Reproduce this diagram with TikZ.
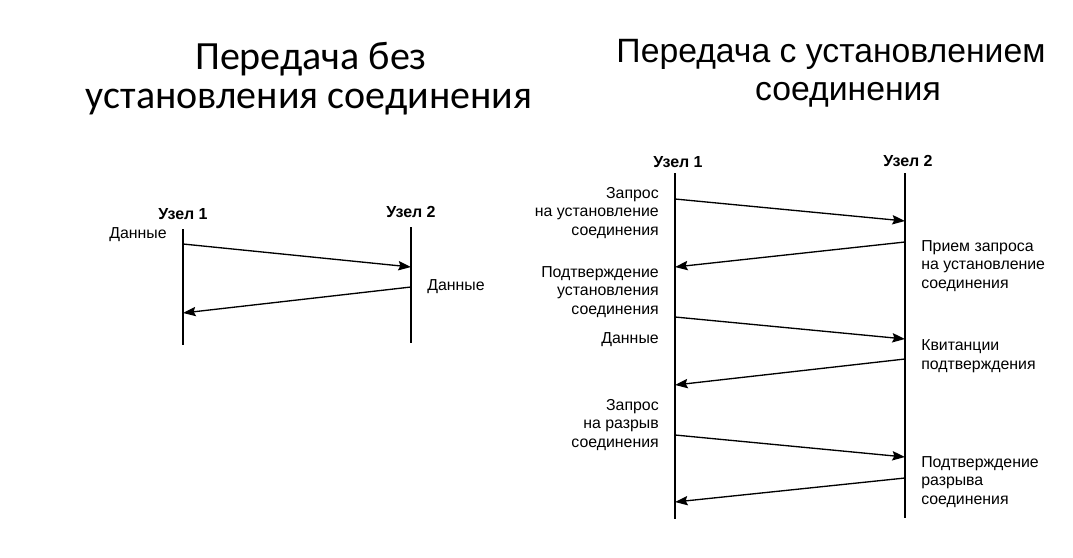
\documentclass[tikz,border=0pt]{standalone}
\usepackage{fontspec}
\setmainfont{Liberation Sans}
\newfontfamily\calibrifont{Carlito}
\usetikzlibrary{arrows.meta}
\begin{document}
\begin{tikzpicture}[x=0.75pt,y=-0.75pt,
  life/.style={line width=1.3pt},
  msg/.style={line width=1pt,-{Stealth[length=9.5pt,width=7pt,inset=1.5pt]}},
  hdr/.style={font=\bfseries\fontsize{12}{14}\selectfont, inner sep=0pt},
  lbl/.style={font=\fontsize{11.9}{13.9}\selectfont, inner sep=0pt},
  ltitle/.style={font=\calibrifont\fontsize{30}{36}\selectfont, inner sep=0pt, anchor=base},
  rtitle/.style={font=\fontsize{25.3}{30}\selectfont, inner sep=0pt, anchor=base}
]
\fill[white] (0,0) rectangle (1073,557);
\useasboundingbox (0,0) rectangle (1073,557);

% titles
\node[ltitle] (lt1) at (311,69) {Передача без};
\node[ltitle] (lt2) at (309,108) {установления соединения};
\node[rtitle] (rt1) at (831,62) {Передача с установлением};
\node[rtitle] (rt2) at (848,100) {соединения};

% ---------- left diagram ----------
\node[hdr] (lh1) at (183,214) {Узел 1};
\node[hdr] (lh2) at (411,212) {Узел 2};
\coordinate (l1top) at (183,229);
\coordinate (l1bot) at (183,345);
\coordinate (l2top) at (411,227);
\coordinate (l2bot) at (411,343);
\draw[life] (l1top) -- (l1bot);
\draw[life] (l2top) -- (l2bot);
\coordinate (la1) at (183,244);
\coordinate (la2) at (411,267);
\coordinate (la3) at (411,287);
\coordinate (la4) at (183,313);
\draw[msg] (la1) -- (la2);
\draw[msg] (la3) -- (la4);
\node[lbl, anchor=east] (ld1) at (167,235) {Данные};
\node[lbl, anchor=west] (ld2) at (427,287) {Данные};

% ---------- right diagram ----------
\node[hdr] (rh1) at (678,162) {Узел 1};
\node[hdr] (rh2) at (908,161) {Узел 2};
\coordinate (r1top) at (675,173);
\coordinate (r1bot) at (675,519);
\coordinate (r2top) at (905,173);
\coordinate (r2bot) at (905,518);
\draw[life] (r1top) -- (r1bot);
\draw[life] (r2top) -- (r2bot);

\coordinate (ra1s) at (675,199);
\coordinate (ra1e) at (905,221);
\coordinate (ra2s) at (905,242);
\coordinate (ra2e) at (675,267);
\coordinate (ra3s) at (675,317);
\coordinate (ra3e) at (905,339);
\coordinate (ra4s) at (905,359);
\coordinate (ra4e) at (675,385);
\coordinate (ra5s) at (675,435);
\coordinate (ra5e) at (905,457);
\coordinate (ra6s) at (905,478);
\coordinate (ra6e) at (675,502);
\draw[msg] (ra1s) -- (ra1e);
\draw[msg] (ra2s) -- (ra2e);
\draw[msg] (ra3s) -- (ra3e);
\draw[msg] (ra4s) -- (ra4e);
\draw[msg] (ra5s) -- (ra5e);
\draw[msg] (ra6s) -- (ra6e);

\node[lbl, anchor=east, align=right] (rl1) at (659,213) {Запрос\\на установление\\соединения};
\node[lbl, anchor=east, align=right] (rl2) at (659,292) {Подтверждение\\установления\\соединения};
\node[lbl, anchor=east, align=right] (rl3) at (659,340) {Данные};
\node[lbl, anchor=east, align=right] (rl4) at (659,425) {Запрос\\на разрыв\\соединения};

\node[lbl, anchor=west, align=left] (rr1) at (921,266) {Прием запроса\\на установление\\соединения};
\node[lbl, anchor=west, align=left] (rr2) at (921,356) {Квитанции\\подтверждения};
\node[lbl, anchor=west, align=left] (rr3) at (921,482) {Подтверждение\\разрыва\\соединения};
\end{tikzpicture}
\end{document}
